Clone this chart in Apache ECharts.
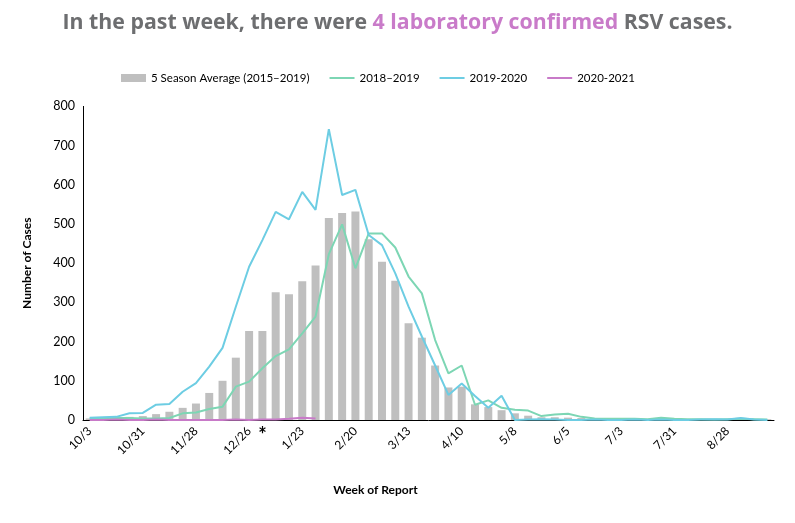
<!DOCTYPE html>
<html>
<head>
<meta charset="utf-8">
<script src="https://cdn.jsdelivr.net/npm/echarts@6/dist/echarts.min.js"></script>
<style>html,body{margin:0;padding:0;background:#fff}#c{width:795px;height:523px}</style>
</head>
<body>
<div id="c"></div>
<script>
// Week of report (every 4th label is shown)
var categories = ['10/3','10/10','10/17','10/24','10/31','11/7','11/14','11/21','11/28','12/5','12/12','12/19','12/26',
  '1/2','1/9','1/16','1/23','1/30','2/6','2/13','2/20','2/27','3/6','3/6 ','3/13','3/20','3/27','4/3','4/10',
  '4/17','4/24','5/1','5/8','5/15','5/22','5/29','6/5','6/12','6/19','6/26','7/3','7/10','7/17','7/24','7/31',
  '8/7','8/14','8/21','8/28','9/4','9/11','9/18'];
var avg5 = [4,5,6,8,10,15,21,31,42,69,100,159,227,227,326,321,354,394,515,528,532,461,404,355,247,210,139,83,85,40,
  33,25,17,11,7,7,6,5,4,3,3,3,2,2,2,2,2,2,2,2,2,2];
var s1819 = [4,4,5,5,4,4,5,17,19,28,34,85,98,132,163,180,221,264,423,499,387,476,476,440,366,323,204,119,139,39,
  50,31,26,24,10,14,16,8,4,3,3,3,2,6,3,2,2,1,2,3,2,1];
var s1920 = [6,7,8,17,18,39,41,72,94,136,184,289,391,459,531,512,582,536,742,574,587,472,446,374,289,213,139,64,93,61,
  31,62,0,1,2,1,0,0,1,0,0,1,0,1,0,0,1,2,1,5,1,0];
var s2021 = [0,0,1,0,0,1,0,0,0,0,0,1,0,1,1,3,6,4];
var yTicks = [0,100,200,300,400,500,600,700,800];
var seriesNames = ['5 Season Average (2015\u20132019)','2018\u20132019','2019-2020','2020-2021'];

var chart = echarts.init(document.getElementById('c'));
var font = 'Lato, "Open Sans", sans-serif';
var noSym = {opacity: 0};
chart.setOption({
  animation: false,
  title: {
    text: '{a|In the past week, there were }{b|4 laboratory confirmed}{a| RSV cases.}',
    left: 'center', top: 7,
    textStyle: {
      rich: {
        a: {fontFamily: '"Open Sans", sans-serif', fontWeight: 'bold', fontSize: 21.3, color: '#6d6e70'},
        b: {fontFamily: '"Open Sans", sans-serif', fontWeight: 'bold', fontSize: 21.3, color: '#c97bc9'}
      }
    }
  },
  legend: {
    top: 67, left: 116,
    itemWidth: 25, itemHeight: 8, itemGap: 19,
    textStyle: {fontFamily: font, fontSize: 11.5, color: '#000'},
    data: [
      {name: seriesNames[0], icon: 'rect'},
      {name: seriesNames[1], itemStyle: noSym},
      {name: seriesNames[2], itemStyle: noSym},
      {name: seriesNames[3], itemStyle: noSym}
    ]
  },
  grid: {left: 83, right: 21, top: 106.4, bottom: 103},
  xAxis: {
    type: 'category', data: categories, boundaryGap: true,
    axisLine: {lineStyle: {color: '#000', width: 1}},
    axisTick: {show: false},
    axisLabel: {interval: 3, rotate: 45, fontFamily: font, fontSize: 12, color: '#000', margin: 9},
    name: 'Week of Report', nameLocation: 'middle', nameGap: 64,
    nameTextStyle: {fontFamily: font, fontWeight: 'bold', fontSize: 12, color: '#000', padding: [0, 106, 0, 0]}
  },
  yAxis: {
    type: 'value', min: 0, max: 800, interval: 100,
    axisLine: {show: true, lineStyle: {color: '#000', width: 1}},
    axisTick: {show: false},
    splitLine: {show: false},
    axisLabel: {fontFamily: font, fontSize: 12.5, color: '#000', margin: 8},
    name: 'Number of Cases', nameLocation: 'middle', nameGap: 50,
    nameTextStyle: {fontFamily: font, fontWeight: 'bold', fontSize: 12, color: '#000'}
  },
  series: [
    {name: seriesNames[0], type: 'bar', data: avg5, barCategoryGap: '40%',
     itemStyle: {color: '#bfbfbf'},
     markPoint: {symbol: 'circle', symbolSize: 0, silent: true,
       data: [{coord: [13, 0], label: {show: true, formatter: '*', offset: [0, 16],
         fontSize: 20, fontWeight: 'bold', color: '#000', fontFamily: font}}]}},
    {name: seriesNames[1], type: 'line', data: s1819, symbol: 'none',
     lineStyle: {color: '#7dd6b4', width: 2}, itemStyle: {color: '#7dd6b4'}},
    {name: seriesNames[2], type: 'line', data: s1920, symbol: 'none',
     lineStyle: {color: '#6dcde3', width: 2}, itemStyle: {color: '#6dcde3'}},
    {name: seriesNames[3], type: 'line', data: s2021, symbol: 'none',
     lineStyle: {color: '#c87ac8', width: 2}, itemStyle: {color: '#c87ac8'}}
  ]
});
</script>
</body>
</html>
